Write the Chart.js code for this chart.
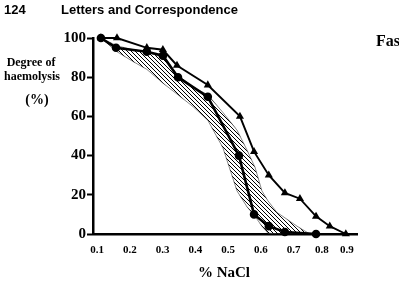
<!DOCTYPE html>
<html>
<head>
<meta charset="utf-8">
<script src="https://cdn.jsdelivr.net/npm/chart.js@4.4.0/dist/chart.umd.min.js"></script>
<style>
  html, body { margin: 0; padding: 0; background: #fff; }
  #wrap { width: 399px; height: 284px; }
</style>
</head>
<body>
<div id="wrap"><canvas id="chart" width="399" height="284"></canvas></div>
<script>
// Series (x on the drawn, linear NaCl axis)
const circleX = [0.112, 0.158, 0.252, 0.301, 0.347, 0.438, 0.533, 0.579, 0.624, 0.673, 0.768];
const circleY = [100, 95, 93, 91, 80, 70, 40, 10, 4, 1, 0];

const triX = [0.112, 0.161, 0.252, 0.301, 0.344, 0.438, 0.536, 0.579, 0.624, 0.673, 0.719, 0.768, 0.81, 0.859];
const triY = [100, 100, 95, 94, 86, 76, 60, 42, 30, 21, 18, 9, 4, 0];

// Hatched normal range
const bandX = [0.112, 0.161, 0.21, 0.252, 0.301, 0.347, 0.393, 0.438, 0.484, 0.527, 0.557, 0.582, 0.603, 0.621, 0.649, 0.71, 0.749];
const bandUpper = [100, 96, 94, 93, 90, 81, 75, 71, 62, 53, 43, 34, 22, 17, 11, 4, 0];
const bandLower = [100, 93, 88, 84, 77, 71, 65, 58, 44, 22, 14, 9, 4, 0.5, 0, 0, 0];

// Tick labels (the printed axis squeezes 0.8 and 0.9)
const xTickValues = [0.1, 0.2, 0.3, 0.4, 0.5, 0.6, 0.7, 0.786, 0.862];
const xTickLabels = ['0.1', '0.2', '0.3', '0.4', '0.5', '0.6', '0.7', '0.8', '0.9'];

function toPoints(xs, ys) {
    return xs.map((x, i) => ({ x: x, y: ys[i] }));
}

function makeHatch(ctx) {
    const c = document.createElement('canvas');
    c.width = 4;
    c.height = 4;
    const g = c.getContext('2d');
    g.strokeStyle = '#000';
    g.lineWidth = 1;
    g.beginPath();
    g.moveTo(-1, -1); g.lineTo(5, 5);
    g.moveTo(-1, 3); g.lineTo(1, 5);
    g.moveTo(3, -1); g.lineTo(5, 1);
    g.stroke();
    return ctx.createPattern(c, 'repeat');
}

// Page header and axis titles
const textPlugin = {
    id: 'texts',
    afterDraw(chart) {
        const ctx = chart.ctx;
        ctx.save();
        ctx.fillStyle = '#000';
        ctx.textBaseline = 'alphabetic';
        ctx.textAlign = 'left';
        ctx.font = 'bold 13px "Liberation Sans", Arial, sans-serif';
        ctx.fillText('124', 4, 14);
        ctx.fillText('Letters and Correspondence', 61, 14);
        ctx.font = 'bold 16px "Liberation Serif", serif';
        ctx.fillText('Fas', 376, 46);

        ctx.textAlign = 'center';
        ctx.textBaseline = 'middle';
        ctx.font = 'bold 12px "Liberation Serif", serif';
        ctx.fillText('Degree of', 31, 63);
        ctx.fillText('haemolysis', 32, 77);
        ctx.font = 'bold 14px "Liberation Serif", serif';
        ctx.fillText('(%)', 37, 100);

        ctx.font = 'bold 15px "Liberation Serif", serif';
        ctx.fillText('% NaCl', 224, 273);
        ctx.restore();
    }
};

const ctx = document.getElementById('chart').getContext('2d');
const hatch = makeHatch(ctx);

new Chart(ctx, {
    type: 'line',
    data: {
        datasets: [
            {
                label: 'circles',
                data: toPoints(circleX, circleY),
                borderColor: '#000',
                backgroundColor: '#000',
                borderWidth: 2.6,
                pointRadius: 3,
                pointStyle: 'circle',
                fill: false,
                clip: false
            },
            {
                label: 'triangles',
                data: toPoints(triX, triY),
                borderColor: '#000',
                backgroundColor: '#000',
                borderWidth: 1.9,
                pointRadius: 2.8,
                pointStyle: 'triangle',
                fill: false,
                clip: false
            },
            {
                label: 'upper',
                data: toPoints(bandX, bandUpper),
                borderColor: '#555',
                borderWidth: 0.7,
                pointRadius: 0,
                backgroundColor: hatch,
                fill: '+1'
            },
            {
                label: 'lower',
                data: toPoints(bandX, bandLower),
                borderColor: '#555',
                borderWidth: 0.7,
                pointRadius: 0,
                fill: false
            }
        ]
    },
    options: {
        responsive: false,
        animation: false,
        events: [],
        layout: { padding: { left: 0, top: 38, right: 42, bottom: 0 } },
        elements: { line: { tension: 0 } },
        plugins: {
            legend: { display: false },
            tooltip: { enabled: false }
        },
        scales: {
            x: {
                type: 'linear',
                min: 0.0878,
                max: 0.893,
                afterFit(scale) { scale.height = 50; },
                afterBuildTicks(scale) {
                    scale.ticks = xTickValues.map(v => ({ value: v }));
                },
                grid: { display: true, drawOnChartArea: false, drawTicks: false },
                border: { display: true, color: '#000', width: 2.5 },
                ticks: {
                    color: '#000',
                    padding: 10,
                    maxRotation: 0,
                    autoSkip: false,
                    font: { family: '"Liberation Serif", serif', size: 11, weight: 'bold' },
                    callback: (val, i) => xTickLabels[i]
                }
            },
            y: {
                min: 0,
                max: 100,
                afterFit(scale) { scale.width = 93; },
                grid: {
                    drawOnChartArea: false,
                    drawTicks: true,
                    tickLength: 6,
                    tickWidth: 2,
                    tickColor: '#000'
                },
                border: { display: true, color: '#000', width: 2.5 },
                ticks: {
                    stepSize: 20,
                    color: '#000',
                    padding: 1,
                    font: { family: '"Liberation Serif", serif', size: 15, weight: 'bold' }
                }
            }
        }
    },
    plugins: [textPlugin]
});
</script>
</body>
</html>
